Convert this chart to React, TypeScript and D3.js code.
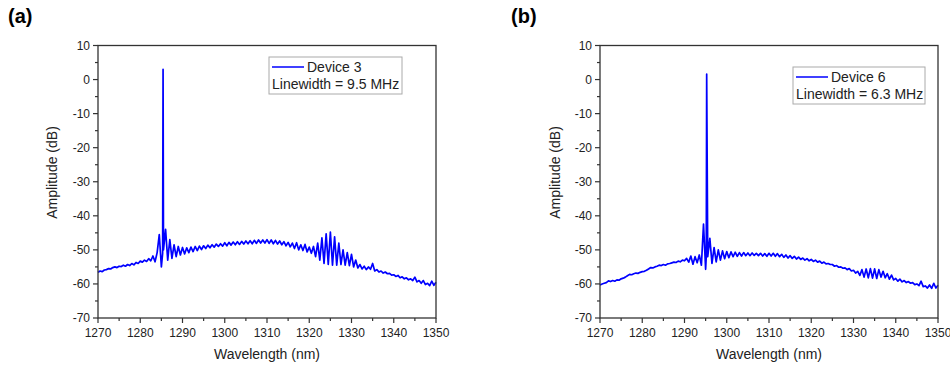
import React from "react";
import * as d3 from "d3";

// Wavelength grid (nm), 0.5 nm step
const wlStart = 1270;
const wlStep = 0.5;

// Device 3 amplitudes (dB) at 1270, 1270.5, ... 1350
const dev3Db = [
  -56.6, -56.2, -56.4, -55.9, -55.8, -55.5, -55.6, -55.2, -55.0, -55.2,
  -54.8, -54.9, -54.5, -54.8, -54.3, -54.6, -54.0, -54.4, -53.7, -54.0,
  -53.3, -53.6, -53.0, -53.4, -52.6, -53.2, -51.8, -53.5, -50.8, -45.5,
  -55.0, -50.0, -44.0, -53.0, -47.0, -52.5, -48.5, -52.0, -49.0, -51.5,
  -49.3, -51.2, -49.4, -50.8, -49.2, -50.5, -49.0, -50.2, -48.9, -49.9,
  -48.8, -49.6, -48.6, -49.4, -48.5, -49.2, -48.3, -49.0, -48.2, -48.9,
  -47.9, -48.8, -47.8, -48.6, -47.7, -48.5, -47.6, -48.4, -47.5, -48.3,
  -47.4, -48.2, -47.3, -48.2, -47.2, -48.1, -47.1, -48.0, -47.1, -48.0,
  -47.0, -48.1, -47.1, -48.2, -47.2, -48.3, -47.4, -48.5, -47.6, -48.8,
  -47.8, -49.1, -48.0, -49.6, -47.9, -50.0, -48.5, -50.2, -48.4, -50.6,
  -49.2, -51.0, -49.0, -52.0, -48.0, -53.0, -46.5, -54.0, -45.3, -54.3,
  -44.8, -54.5, -46.2, -54.5, -48.0, -54.3, -50.0, -54.5, -50.8, -54.6,
  -51.3, -55.0, -53.0, -55.3, -54.3, -55.6, -54.8, -55.8, -55.0, -55.7,
  -54.0, -56.2, -55.8, -56.5, -56.2, -56.8, -56.5, -57.0, -56.9, -57.4,
  -57.3, -57.8, -57.5, -58.2, -57.9, -58.5, -58.2, -58.8, -58.5, -59.0,
  -58.0, -59.4, -59.0, -59.8, -59.0, -60.2, -59.8, -60.5, -59.2, -60.4,
  -59.5,
];
// Lasing line of device 3
const dev3PeakWl = [1285.3, 1285.4];
const dev3PeakDb = [-51.0, 3.0];

// Device 6 amplitudes (dB) at 1270, 1270.5, ... 1350
const dev6Db = [
  -60.3, -60.0, -59.8, -59.6, -59.1, -59.3, -59.0, -59.2, -58.8, -58.9,
  -58.5, -58.3, -58.0, -57.6, -57.2, -57.3, -57.0, -56.8, -56.9, -56.6,
  -56.4, -56.3, -56.0, -55.6, -55.2, -55.3, -55.0, -54.8, -54.5, -54.6,
  -54.3, -54.5, -54.1, -54.0, -53.8, -53.6, -53.7, -53.3, -53.5, -53.0,
  -53.2, -52.5, -53.6, -51.8, -54.2, -52.0, -53.8, -51.5, -54.5, -42.4,
  -55.7, -52.0, -46.6, -54.0, -49.3, -53.5, -50.0, -53.0, -50.3, -52.6,
  -50.5, -52.3, -50.6, -52.0, -50.7, -51.9, -50.8, -51.8, -50.8, -51.7,
  -50.9, -51.7, -50.9, -51.6, -51.0, -51.7, -51.0, -51.8, -51.1, -51.9,
  -51.0, -51.8, -51.0, -51.9, -51.1, -52.0, -51.3, -52.2, -51.5, -52.4,
  -51.7, -52.5, -51.9, -52.7, -52.1, -52.8, -52.4, -53.0, -52.6, -53.2,
  -52.8, -53.4, -53.0, -53.6, -53.3, -53.9, -53.6, -54.1, -54.0, -54.3,
  -54.3, -54.8, -54.6, -55.1, -55.0, -55.4, -55.3, -55.8, -55.5, -56.2,
  -56.0, -56.8, -56.3, -57.5, -55.8, -58.0, -55.6, -58.2, -55.5, -58.3,
  -55.6, -58.4, -55.8, -58.0, -56.3, -58.2, -57.0, -58.6, -57.4, -58.8,
  -58.4, -59.2, -58.6, -59.4, -59.0, -59.6, -59.3, -59.8, -59.6, -60.2,
  -60.0, -60.5, -59.2, -60.8, -60.6, -61.2, -60.3, -61.3, -59.8, -61.2,
  -60.4,
];
const dev6PeakWl = [1295.15, 1295.25];
const dev6PeakDb = [-52.0, 1.6];

const xTicks = [1270, 1280, 1290, 1300, 1310, 1320, 1330, 1340, 1350];
const yTicks = [10, 0, -10, -20, -30, -40, -50, -60, -70];

const panels = [
  {
    label: "(a)", labelX: 8, left: 98, right: 436, yTitleX: 52,
    db: dev3Db, peakWl: dev3PeakWl, peakDb: dev3PeakDb,
    legendName: "Device 3", legendLw: "Linewidth = 9.5 MHz",
    lgX: 269, lgY: 57, lgW: 133, lgH: 37,
  },
  {
    label: "(b)", labelX: 511, left: 600, right: 938, yTitleX: 555,
    db: dev6Db, peakWl: dev6PeakWl, peakDb: dev6PeakDb,
    legendName: "Device 6", legendLw: "Linewidth = 6.3 MHz",
    lgX: 793, lgY: 67, lgW: 132, lgH: 37,
  },
];

const FONT = "'Liberation Sans', Arial, sans-serif";
const TOP = 45.5;
const BOTTOM = 318;

function Panel({ p }: { p: any }) {
  const x = d3.scaleLinear().domain([1270, 1350]).range([p.left, p.right]);
  const y = d3.scaleLinear().domain([-70, 10]).range([BOTTOM, TOP]);
  const pts: [number, number][] = p.db.map((v: number, i: number) => [wlStart + i * wlStep, v]);
  p.peakWl.forEach((w: number, i: number) => pts.push([w, p.peakDb[i]]));
  pts.sort((a, b) => a[0] - b[0]);
  const line = d3.line<[number, number]>().x((d) => x(d[0])).y((d) => y(d[1]));
  const xMinor = d3.range(1275, 1350, 10);
  const yMinor = d3.range(-65, 10, 10);
  const axisColor = "#333";
  return (
    <g>
      <text x={p.labelX} y={23} fontFamily={FONT} fontWeight="bold" fontSize={20} fill="#000">{p.label}</text>
      <path d={line(pts) || ""} fill="none" stroke="#0000ff" strokeWidth={1.7} strokeLinejoin="round" />
      <rect x={p.left} y={TOP} width={p.right - p.left} height={BOTTOM - TOP} fill="none" stroke={axisColor} strokeWidth={1.3} />
      {xTicks.map((t) => (
        <g key={"xt" + t}>
          <line x1={x(t)} x2={x(t)} y1={BOTTOM} y2={BOTTOM + 5} stroke={axisColor} strokeWidth={1.2} />
          <text x={x(t)} y={337} textAnchor="middle" fontFamily={FONT} fontSize={12} fill="#222">{t}</text>
        </g>
      ))}
      {xMinor.map((t) => (
        <line key={"xm" + t} x1={x(t)} x2={x(t)} y1={BOTTOM} y2={BOTTOM + 3} stroke={axisColor} strokeWidth={1.2} />
      ))}
      {yTicks.map((t) => (
        <g key={"yt" + t}>
          <line x1={p.left - 5} x2={p.left} y1={y(t)} y2={y(t)} stroke={axisColor} strokeWidth={1.2} />
          <text x={p.left - 8} y={y(t)} dy="0.36em" textAnchor="end" fontFamily={FONT} fontSize={12} fill="#222">{t}</text>
        </g>
      ))}
      {yMinor.map((t) => (
        <line key={"ym" + t} x1={p.left - 3} x2={p.left} y1={y(t)} y2={y(t)} stroke={axisColor} strokeWidth={1.2} />
      ))}
      <text x={(p.left + p.right) / 2} y={359} textAnchor="middle" fontFamily={FONT} fontSize={14} fill="#222">Wavelength (nm)</text>
      <text transform={`translate(${p.yTitleX},172.5) rotate(-90)`} dy="0.35em" textAnchor="middle" fontFamily={FONT} fontSize={14} fill="#222">Amplitude (dB)</text>
      <rect x={p.lgX} y={p.lgY} width={p.lgW} height={p.lgH} fill="#fff" stroke="#aaa" strokeWidth={1} />
      <line x1={p.lgX + 3} x2={p.lgX + 35} y1={p.lgY + 10} y2={p.lgY + 10} stroke="#0000ff" strokeWidth={1.5} />
      <text x={p.lgX + 38} y={p.lgY + 15} fontFamily={FONT} fontSize={14} fill="#222">{p.legendName}</text>
      <text x={p.lgX + 3} y={p.lgY + 32} fontFamily={FONT} fontSize={14} fill="#222">{p.legendLw}</text>
    </g>
  );
}

export default function App() {
  return (
    <svg width={950} height={365} style={{ position: "absolute", left: 0, top: 0, background: "#fff" }}>
      <rect width={950} height={365} fill="#fff" />
      {panels.map((p) => (
        <Panel key={p.label} p={p} />
      ))}
    </svg>
  );
}
